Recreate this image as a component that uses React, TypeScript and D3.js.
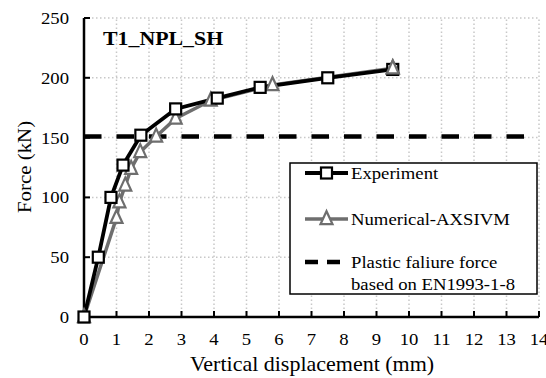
import React from "react";
import * as d3 from "d3";

// Load–displacement results for specimen T1_NPL_SH
const expDisp = [0, 0.44, 0.83, 1.2, 1.75, 2.82, 4.1, 5.42, 7.5, 9.5];
const expForce = [0, 50, 100, 127, 152, 174, 183, 192, 200, 207];

const numDisp = [0, 1.0, 1.09, 1.27, 1.45, 1.73, 2.22, 2.82, 3.9, 5.8, 9.5];
const numForce = [0, 83, 96, 110, 124, 138, 151, 166, 181, 194, 208];

const plasticForce = 151;
const plasticDispRange = [0, 13.6];

const xTicks = [0, 1, 2, 3, 4, 5, 6, 7, 8, 9, 10, 11, 12, 13, 14];
const yTicks = [0, 50, 100, 150, 200, 250];

const legendLabels = ["Experiment", "Numerical-AXSIVM", "Plastic faliure force", "based on EN1993-1-8"];

const W = 546;
const H = 378;
const FONT = '"Liberation Serif", "Times New Roman", serif';
const SX = 1.1; // horizontal stretch of the lettering

const x = d3.scaleLinear().domain([0, 14]).range([84, 539]);
const y = d3.scaleLinear().domain([0, 250]).range([317, 18]);

const EXP_COLOR = "#000000";
const NUM_COLOR = "#6e6e6e";

function T({ x: tx, y: ty, anchor = "start", size, weight = "normal", children, rotate = 0, sx = SX }: any) {
  const tr = rotate
    ? `translate(${tx},${ty}) rotate(${rotate}) scale(${sx},1)`
    : `translate(${tx},${ty}) scale(${sx},1)`;
  return (
    <text
      transform={tr}
      textAnchor={anchor}
      style={{ fontFamily: FONT, fontSize: size, fontWeight: weight }}
      fill="#000"
    >
      {children}
    </text>
  );
}

function Square({ cx, cy, color }: any) {
  const s = 11;
  return <rect x={cx - s / 2} y={cy - s / 2} width={s} height={s} fill="#fff" stroke={color} strokeWidth={2.2} />;
}

function Tri({ cx, cy, color }: any) {
  const w = 12;
  const h = 13;
  const pts = `${cx},${cy - h * 0.6} ${cx - w / 2},${cy + h * 0.4} ${cx + w / 2},${cy + h * 0.4}`;
  return <polygon points={pts} fill="#fff" stroke={color} strokeWidth={2.2} strokeLinejoin="miter" />;
}

export default function App() {
  const line = d3
    .line<[number, number]>()
    .x((d) => x(d[0]))
    .y((d) => y(d[1]));

  const expPts: [number, number][] = expDisp.map((d, i) => [d, expForce[i]]);
  const numPts: [number, number][] = numDisp.map((d, i) => [d, numForce[i]]);

  const [x0, y0] = [x.range()[0], y.range()[0]];

  return (
    <svg width={W} height={H} style={{ position: "absolute", left: 0, top: 0, background: "#fff" }}>
      <rect width={W} height={H} fill="#fff" />

      {/* grid */}
      {xTicks.slice(1).map((t) => (
        <line key={"gx" + t} x1={x(t)} x2={x(t)} y1={y(0)} y2={y(250)} stroke="#c8c8c8" strokeWidth={1.5} strokeDasharray="1.5,2.5" />
      ))}
      {yTicks.slice(1).map((t) => (
        <line key={"gy" + t} x1={x(0)} x2={x(14)} y1={y(t)} y2={y(t)} stroke="#c8c8c8" strokeWidth={1.5} strokeDasharray="1.5,2.5" />
      ))}

      {/* plastic failure force */}
      <line
        x1={x(plasticDispRange[0])}
        x2={x(plasticDispRange[1])}
        y1={y(plasticForce)}
        y2={y(plasticForce)}
        stroke="#000"
        strokeWidth={4.5}
        strokeDasharray="17.5,15"
      />

      {/* axes */}
      <line x1={x0} x2={x0} y1={y(250)} y2={y0} stroke="#000" strokeWidth={2.5} />
      <line x1={x0} x2={x(14)} y1={y0} y2={y0} stroke="#000" strokeWidth={2.5} />
      {yTicks.map((t) => (
        <line key={"ty" + t} x1={x0} x2={x0 + 6} y1={y(t)} y2={y(t)} stroke="#000" strokeWidth={2} />
      ))}
      {xTicks.map((t) => (
        <line key={"tx" + t} x1={x(t)} x2={x(t)} y1={y0} y2={y0 - 6} stroke="#000" strokeWidth={2} />
      ))}

      {/* series */}
      <path d={line(numPts) || ""} fill="none" stroke={NUM_COLOR} strokeWidth={3.5} />
      <path d={line(expPts) || ""} fill="none" stroke={EXP_COLOR} strokeWidth={3.8} />
      {numPts.map((p, i) => (
        <Tri key={"n" + i} cx={x(p[0])} cy={y(p[1])} color={NUM_COLOR} />
      ))}
      {expPts.map((p, i) => (
        <Square key={"e" + i} cx={x(p[0])} cy={y(p[1])} color={EXP_COLOR} />
      ))}
      <Tri cx={x(numPts[numPts.length - 1][0])} cy={y(numPts[numPts.length - 1][1])} color={NUM_COLOR} />

      {/* tick labels */}
      {yTicks.map((t) => (
        <T key={"ly" + t} x={69} y={y(t) + 6} anchor="end" size={17}>
          {t}
        </T>
      ))}
      {xTicks.map((t) => (
        <T key={"lx" + t} x={x(t)} y={345} anchor="middle" size={17}>
          {t}
        </T>
      ))}

      {/* axis titles */}
      <T x={312} y={371} anchor="middle" size={20}>
        Vertical displacement (mm)
      </T>
      <T x={31} y={167} anchor="middle" size={19} rotate={-90}>
        Force (kN)
      </T>

      {/* panel title */}
      <T x={103} y={45} size={19} weight="bold" sx={1.15}>
        T1_NPL_SH
      </T>

      {/* legend */}
      <rect x={290} y={163} width={247} height={131} fill="#fff" stroke="#000" strokeWidth={1.5} />
      <line x1={305} x2={348} y1={173} y2={173} stroke={EXP_COLOR} strokeWidth={3.8} />
      <Square cx={326.5} cy={173} color={EXP_COLOR} />
      <T x={351} y={179} size={17}>
        {legendLabels[0]}
      </T>
      <line x1={305} x2={348} y1={219} y2={219} stroke={NUM_COLOR} strokeWidth={3.5} />
      <Tri cx={326.5} cy={219} color={NUM_COLOR} />
      <T x={351} y={225} size={17}>
        {legendLabels[1]}
      </T>
      <line x1={305} x2={348} y1={262} y2={262} stroke="#000" strokeWidth={4.5} strokeDasharray="13,9" />
      <T x={351} y={268} size={17}>
        {legendLabels[2]}
      </T>
      <T x={351} y={290} size={17}>
        {legendLabels[3]}
      </T>
    </svg>
  );
}
